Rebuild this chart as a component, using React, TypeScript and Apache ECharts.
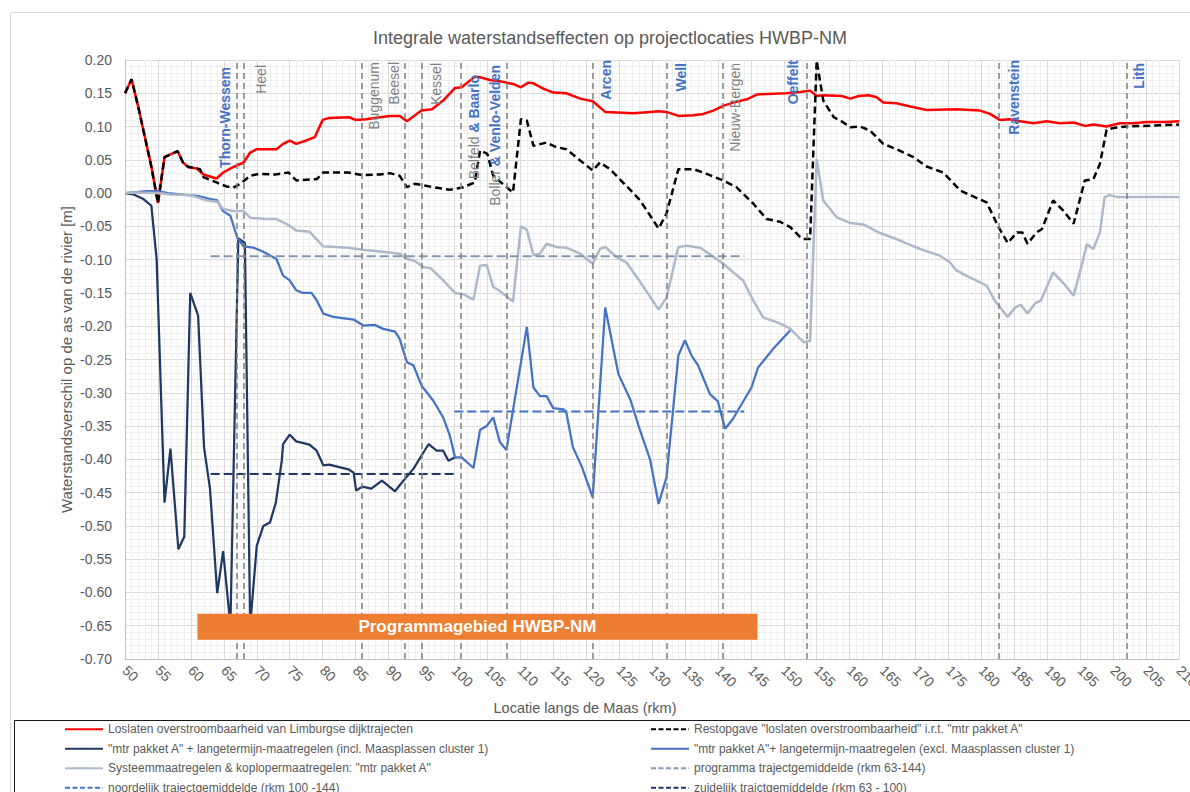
import React, { useEffect, useRef } from 'react';
import * as echarts from 'echarts';

const FONT = 'Liberation Sans, Arial, sans-serif';
const TITLE = 'Integrale waterstandseffecten op projectlocaties HWBP-NM';
const X_NAME = 'Locatie langs de Maas (rkm)';
const Y_NAME = 'Waterstandsverschil op de as van de rivier [m]';

const N_RED = 'Loslaten overstroombaarheid van Limburgse dijktrajecten';
const N_BLACK = 'Restopgave "loslaten overstroombaarheid" i.r.t. "mtr pakket A"';
const N_NAVY = '"mtr pakket A" + langetermijn-maatregelen (incl. Maasplassen cluster 1)';
const N_BLUE = '"mtr pakket A"+ langetermijn-maatregelen (excl. Maasplassen cluster 1)';
const N_GRAY = 'Systeemmaatregelen & koplopermaatregelen: "mtr pakket A"';
const N_PROG = 'programma trajectgemiddelde (rkm 63-144)';
const N_NOORD = 'noordelijk trajectgemiddelde (rkm 100 -144)';
const N_ZUID = 'zuidelijk traictgemiddelde (rkm 63 - 100)';

const redKm = [50, 51, 52, 53, 54, 55, 56, 58, 58.8, 59.6, 60.9, 61.9, 63.9, 64.9, 66.4, 68, 69, 70, 73, 74, 75, 76, 77.5, 78.8, 80, 81, 84, 85, 86.6, 88.7, 90.2, 91.7, 92.8, 95, 96.6, 98.3, 100.1, 101.1, 103.1, 103.9, 105.4, 106.9, 107.9, 108.9, 110.1, 111.2, 112, 113.5, 115, 117, 119.1, 121, 122.9, 127.2, 129.7, 131, 132.2, 134, 136.3, 137.8, 139.3, 140.8, 142.3, 144.4, 145.9, 147.4, 150.4, 152.5, 154, 155, 156, 158.8, 160.1, 161.4, 162.9, 164.1, 165.1, 167.1, 169.2, 171.7, 176.2, 179.8, 181.3, 182.8, 184.3, 185.9, 187.9, 189.9, 191.9, 194, 195.7, 197, 199, 201, 203, 205.1, 208, 210];
const redVal = [0.150, 0.171, 0.130, 0.085, 0.040, -0.015, 0.054, 0.063, 0.046, 0.039, 0.037, 0.028, 0.022, 0.031, 0.039, 0.046, 0.061, 0.066, 0.066, 0.074, 0.079, 0.074, 0.079, 0.084, 0.110, 0.113, 0.114, 0.110, 0.111, 0.114, 0.116, 0.116, 0.108, 0.124, 0.126, 0.139, 0.158, 0.159, 0.175, 0.174, 0.170, 0.168, 0.166, 0.164, 0.159, 0.166, 0.165, 0.157, 0.151, 0.150, 0.142, 0.138, 0.122, 0.120, 0.122, 0.123, 0.122, 0.116, 0.117, 0.119, 0.124, 0.131, 0.136, 0.141, 0.148, 0.149, 0.150, 0.152, 0.154, 0.146, 0.147, 0.146, 0.142, 0.146, 0.147, 0.144, 0.136, 0.135, 0.130, 0.125, 0.126, 0.124, 0.119, 0.110, 0.111, 0.108, 0.105, 0.108, 0.105, 0.106, 0.101, 0.103, 0.100, 0.105, 0.105, 0.107, 0.107, 0.108];

const blackKm = [50, 51, 52, 53, 54, 55, 56, 58, 58.9, 59.5, 61.4, 61.9, 63.9, 65.4, 66.4, 67.5, 69, 70.3, 72.8, 74.8, 76, 79.1, 80.1, 83.9, 86, 88.7, 90.2, 91.7, 92.8, 94, 96.8, 99.3, 101.1, 103.1, 103.9, 105, 105.9, 107.9, 108.9, 110.1, 111, 112, 114, 115.5, 117, 119.1, 121, 122.1, 123.6, 126.1, 128.2, 131, 132.2, 134, 136.3, 138.3, 140.8, 142.8, 145.4, 147.4, 149.4, 151, 152.5, 153, 154, 155, 156, 157.6, 158.6, 160.1, 161.6, 163.1, 165.1, 167.1, 169.7, 171.7, 174.2, 176.8, 178.3, 180.8, 182.6, 184, 185.4, 186.2, 187, 188.4, 189.2, 190.9, 192.4, 194, 195.7, 197, 198, 199, 200.1, 202, 204.6, 207.5, 210];
const blackVal = [0.150, 0.171, 0.130, 0.085, 0.040, -0.015, 0.054, 0.063, 0.044, 0.040, 0.036, 0.024, 0.016, 0.010, 0.008, 0.014, 0.026, 0.029, 0.028, 0.031, 0.019, 0.021, 0.031, 0.031, 0.027, 0.028, 0.030, 0.026, 0.009, 0.014, 0.009, 0.005, 0.008, 0.016, 0.064, 0.059, 0.026, 0.009, 0.001, 0.111, 0.109, 0.071, 0.076, 0.069, 0.066, 0.049, 0.034, 0.046, 0.036, 0.011, -0.011, -0.053, -0.031, 0.036, 0.036, 0.029, 0.019, 0.009, -0.016, -0.039, -0.043, -0.051, -0.066, -0.069, -0.069, 0.199, 0.139, 0.114, 0.109, 0.099, 0.100, 0.094, 0.074, 0.066, 0.054, 0.040, 0.031, 0.004, -0.003, -0.014, -0.051, -0.075, -0.059, -0.059, -0.076, -0.059, -0.054, -0.011, -0.026, -0.046, 0.019, 0.021, 0.044, 0.095, 0.098, 0.100, 0.101, 0.102, 0.103];

const navyKm = [50, 51.3, 52.8, 54, 54.8, 56, 56.9, 58.1, 59, 59.9, 61.1, 62, 62.9, 64, 64.9, 66, 67.2, 68.2, 69, 70, 71, 72, 72.9, 73.8, 74, 75, 76, 78, 79.1, 80.1, 81, 83.9, 84.7, 85.1, 86, 87.4, 89, 91, 91.7, 93.8, 96.1, 97.3, 98.3, 99.1, 100.1];
const navyVal = [0.000, -0.002, -0.009, -0.019, -0.099, -0.465, -0.384, -0.535, -0.516, -0.150, -0.184, -0.382, -0.444, -0.601, -0.538, -0.650, -0.068, -0.075, -0.650, -0.530, -0.500, -0.495, -0.465, -0.402, -0.377, -0.363, -0.373, -0.378, -0.387, -0.409, -0.408, -0.415, -0.420, -0.447, -0.441, -0.444, -0.432, -0.448, -0.439, -0.414, -0.377, -0.387, -0.387, -0.402, -0.397];

const blueKm = [50, 53.3, 55, 56.5, 59.5, 61, 62.5, 64, 64.9, 66, 67, 68, 69.5, 71, 73, 74, 75, 76, 77, 78.3, 79.1, 80.1, 81.6, 84.7, 86.2, 87.9, 89.2, 91, 91.7, 92.8, 93.8, 95, 96.8, 98.3, 99.3, 100.1, 101.1, 102.9, 103.9, 104.9, 105.9, 106.9, 107.9, 111, 112, 113, 114, 115, 116.6, 117, 118, 119.3, 121, 122.9, 124.9, 126.7, 128.2, 129.7, 131, 132.2, 134, 135, 136, 137, 138.8, 140, 141.1, 142.3, 145.1, 146.1, 148.4, 151];
const blueVal = [0.000, 0.003, 0.003, 0.000, -0.003, -0.004, -0.008, -0.011, -0.027, -0.034, -0.066, -0.080, -0.082, -0.088, -0.099, -0.124, -0.131, -0.146, -0.150, -0.150, -0.161, -0.181, -0.186, -0.190, -0.199, -0.198, -0.204, -0.208, -0.219, -0.254, -0.259, -0.289, -0.312, -0.337, -0.364, -0.397, -0.397, -0.413, -0.356, -0.350, -0.337, -0.374, -0.386, -0.201, -0.292, -0.305, -0.305, -0.323, -0.325, -0.330, -0.382, -0.410, -0.457, -0.172, -0.272, -0.310, -0.357, -0.400, -0.467, -0.427, -0.244, -0.221, -0.244, -0.259, -0.302, -0.313, -0.354, -0.339, -0.292, -0.262, -0.234, -0.206];

const grayKm = [50, 51.5, 55, 57, 59.9, 62.4, 64, 64.9, 66.4, 68, 69, 71.4, 73, 75, 76, 78, 80.1, 83.9, 86.1, 89.2, 91.7, 92.8, 94, 95.3, 96.4, 97.8, 100.1, 101.4, 102.9, 103.9, 104.9, 105.9, 106.9, 108.9, 110.1, 111, 112, 113, 114, 115.5, 117, 119.1, 121, 122.1, 122.9, 124.6, 126.1, 127.9, 129.4, 131, 132.2, 134, 135.3, 137.3, 138.8, 140.8, 142.3, 143.8, 145.4, 146.9, 148.4, 149.9, 151, 153, 154, 155, 156, 158, 160.1, 162.1, 164.6, 167.1, 170.7, 173.7, 175.2, 176.2, 177.7, 180.8, 182, 184, 185.1, 186, 187, 188.2, 189, 190.9, 192.6, 194, 195.3, 196, 197, 198, 198.7, 199.5, 200.6, 210];
const grayVal = [0.000, 0.001, 0.000, -0.002, -0.003, -0.011, -0.013, -0.024, -0.027, -0.027, -0.037, -0.039, -0.039, -0.049, -0.056, -0.058, -0.080, -0.082, -0.085, -0.088, -0.091, -0.099, -0.102, -0.111, -0.113, -0.126, -0.150, -0.152, -0.160, -0.109, -0.108, -0.141, -0.147, -0.163, -0.050, -0.055, -0.093, -0.091, -0.076, -0.081, -0.082, -0.091, -0.106, -0.084, -0.081, -0.096, -0.104, -0.129, -0.151, -0.175, -0.157, -0.081, -0.079, -0.082, -0.092, -0.106, -0.119, -0.131, -0.162, -0.187, -0.192, -0.198, -0.204, -0.224, -0.222, 0.051, -0.011, -0.036, -0.045, -0.047, -0.060, -0.069, -0.084, -0.094, -0.104, -0.116, -0.124, -0.139, -0.161, -0.186, -0.172, -0.168, -0.181, -0.165, -0.162, -0.119, -0.137, -0.154, -0.106, -0.077, -0.084, -0.059, -0.006, -0.003, -0.006, -0.006];

const progKm = [63, 144];
const progVal = [-0.095, -0.095];
const noordKm = [100, 144];
const noordVal = [-0.328, -0.328];
const zuidKm = [63, 100];
const zuidVal = [-0.422, -0.422];

// locations (vertical dashed lines)
const locKm = [67, 68, 86, 92.5, 95, 101, 108, 121, 132.3, 140.7, 153.5, 182.6, 202];
const locGrayText = ['', 'Heel', 'Buggenum', 'Beesel', 'Kessel', 'Belfeld ', 'Boller ', '', '', 'Nieuw-Bergen', '', '', ''];
const locBlueText = ['Thorn-Wessem', '', '', '', '', '& Baarlo', '& Venlo-Velden', 'Arcen', 'Well', '', 'Oeffelt', 'Ravenstein', 'Lith'];
// label styling (side of line, offset along line, offset from line)
const locSide = ['L', 'R', 'R', 'L', 'R', 'R', 'L', 'R', 'R', 'R', 'L', 'R', 'R'];
const locAlong = [7, 5, 2, 2, 3, 15, 5, 0, 3, 3, 0, 0, 3];
const locPerp = [5, 10, 5, 4, 8, 6, 5, 6, 7, 6, 7, 8, 6];

const bandName = 'Programmagebied HWBP-NM';
const bandKm = [61, 146];
const bandVal = [-0.632, -0.671];

const pair = (xs: number[], ys: number[]) => xs.map((x, i) => [x, ys[i]]);

const GRAYTXT = '#595959';
const LEGEND_DASH = [5, 2.5];

function buildOption(): any {
  const lineSeries = (name: string, xs: number[], ys: number[], color: string, width: number, type: any, extra: any = {}) => ({
    name,
    type: 'line',
    data: pair(xs, ys),
    symbol: 'none',
    showSymbol: false,
    lineStyle: { color, width, type },
    itemStyle: { color },
    emphasis: { disabled: true },
    silent: true,
    ...extra,
  });

  const markLine = {
    silent: true,
    symbol: ['none', 'none'],
    lineStyle: { color: '#7f7f7f', width: 1.5, type: [6, 4] },
    emphasis: { disabled: true },
    data: locKm.map((km, i) => ({
      xAxis: km,
      label: {
        show: true,
        position: locSide[i] === 'L' ? 'insideEndTop' : 'insideEndBottom',
        distance: [locAlong[i], locPerp[i]],
        formatter: (locGrayText[i] ? '{g|' + locGrayText[i] + '}' : '') + (locBlueText[i] ? '{b|' + locBlueText[i] + '}' : ''),
        rich: {
          g: { color: '#7f7f7f', fontSize: 14, fontFamily: FONT },
          b: { color: '#4472C4', fontSize: 14, fontWeight: 'bold', fontFamily: FONT },
        },
      },
    })),
  };

  const markArea = {
    silent: true,
    z: 10,
    itemStyle: { color: '#ED7D31', opacity: 1, borderWidth: 0 },
    label: { show: true, position: 'inside', color: '#ffffff', fontWeight: 'bold', fontSize: 17, fontFamily: FONT },
    emphasis: { disabled: true },
    data: [[{ name: bandName, xAxis: bandKm[0], yAxis: bandVal[0] }, { xAxis: bandKm[1], yAxis: bandVal[1] }]],
  };

  const legendBase = {
    orient: 'vertical',
    top: 722.3,
    height: 140,
    padding: 0,
    itemWidth: 38,
    itemHeight: 14,
    itemGap: 5.5,
    selectedMode: false,
    itemStyle: { opacity: 0 },
    textStyle: { fontSize: 12, color: GRAYTXT, fontFamily: FONT, lineHeight: 14 },
  };
  const dashed = (name: string) => ({ name, lineStyle: { type: LEGEND_DASH } });

  return {
    animation: false,
    backgroundColor: '#ffffff',
    textStyle: { fontFamily: FONT },
    grid: { left: 125, right: 11, top: 60, bottom: 133, containLabel: false, outerBoundsMode: 'none' },
    xAxis: {
      type: 'value',
      min: 50,
      max: 210,
      interval: 5,
      axisLine: { show: true, onZero: false, lineStyle: { color: '#bfbfbf', width: 1 } },
      axisTick: { show: false },
      axisLabel: { rotate: -45, margin: 9, color: GRAYTXT, fontSize: 14, fontFamily: FONT },
      splitLine: { show: true, lineStyle: { color: '#d9d9d9', width: 1 } },
      minorTick: { show: false, splitNumber: 5 },
      minorSplitLine: { show: true, lineStyle: { color: '#efefef', width: 1 } },
    },
    yAxis: {
      type: 'value',
      min: -0.7,
      max: 0.2,
      interval: 0.05,
      name: Y_NAME,
      nameLocation: 'middle',
      nameGap: 51,
      nameRotate: 90,
      nameMoveOverlap: false,
      nameTextStyle: { fontSize: 15, color: GRAYTXT, fontFamily: FONT },
      axisLine: { show: true, lineStyle: { color: '#bfbfbf', width: 1 } },
      axisTick: { show: false },
      axisLabel: {
        margin: 13,
        color: GRAYTXT,
        fontSize: 14,
        fontFamily: FONT,
        formatter: (v: number) => (Math.abs(v) < 1e-9 ? '0.00' : v.toFixed(2)),
      },
      splitLine: { show: true, lineStyle: { color: '#d9d9d9', width: 1 } },
      minorTick: { show: false, splitNumber: 5 },
      minorSplitLine: { show: true, lineStyle: { color: '#efefef', width: 1 } },
    },
    legend: [
      { ...legendBase, left: 64, data: [N_RED, N_NAVY, N_GRAY, dashed(N_NOORD)] },
      { ...legendBase, left: 650, data: [dashed(N_BLACK), N_BLUE, dashed(N_PROG), dashed(N_ZUID)] },
    ],
    graphic: [
      { type: 'rect', silent: true, z: -10, shape: { x: 10.5, y: 12.5, width: 1200, height: 800 }, style: { fill: 'none', stroke: '#d9d9d9', lineWidth: 1 } },
      { type: 'text', silent: true, x: 610, y: 38, style: { text: TITLE, align: 'center', verticalAlign: 'middle', fontSize: 18, fill: GRAYTXT, fontFamily: FONT } },
      { type: 'text', silent: true, x: 585, y: 708, style: { text: X_NAME, align: 'center', verticalAlign: 'middle', fontSize: 14.5, fill: GRAYTXT, fontFamily: FONT } },
      { type: 'rect', silent: true, shape: { x: 14.5, y: 720.5, width: 1200, height: 100 }, style: { fill: 'none', stroke: '#1a1a1a', lineWidth: 1 } },
    ],
    series: [
      lineSeries(N_RED, redKm, redVal, '#FF0000', 2.5, 'solid', { markLine, markArea }),
      lineSeries(N_BLACK, blackKm, blackVal, '#000000', 2.5, [7, 4]),
      lineSeries(N_NAVY, navyKm, navyVal, '#203864', 2.25, 'solid'),
      lineSeries(N_BLUE, blueKm, blueVal, '#4472C4', 2.25, 'solid'),
      lineSeries(N_GRAY, grayKm, grayVal, '#ADB9CA', 2.5, 'solid'),
      lineSeries(N_PROG, progKm, progVal, '#8497B0', 2, [9, 4]),
      lineSeries(N_NOORD, noordKm, noordVal, '#4472C4', 2, [9, 4]),
      lineSeries(N_ZUID, zuidKm, zuidVal, '#203864', 2, [9, 4]),
    ],
  };
}

export default function App() {
  const ref = useRef<HTMLDivElement>(null);
  useEffect(() => {
    if (!ref.current) return;
    const chart = echarts.init(ref.current, null, { renderer: 'svg' });
    chart.setOption(buildOption());
    return () => chart.dispose();
  }, []);
  return (
    <div
      ref={ref}
      style={{ position: 'fixed', left: 0, top: 0, width: 1190, height: 792, background: '#ffffff' }}
    />
  );
}
